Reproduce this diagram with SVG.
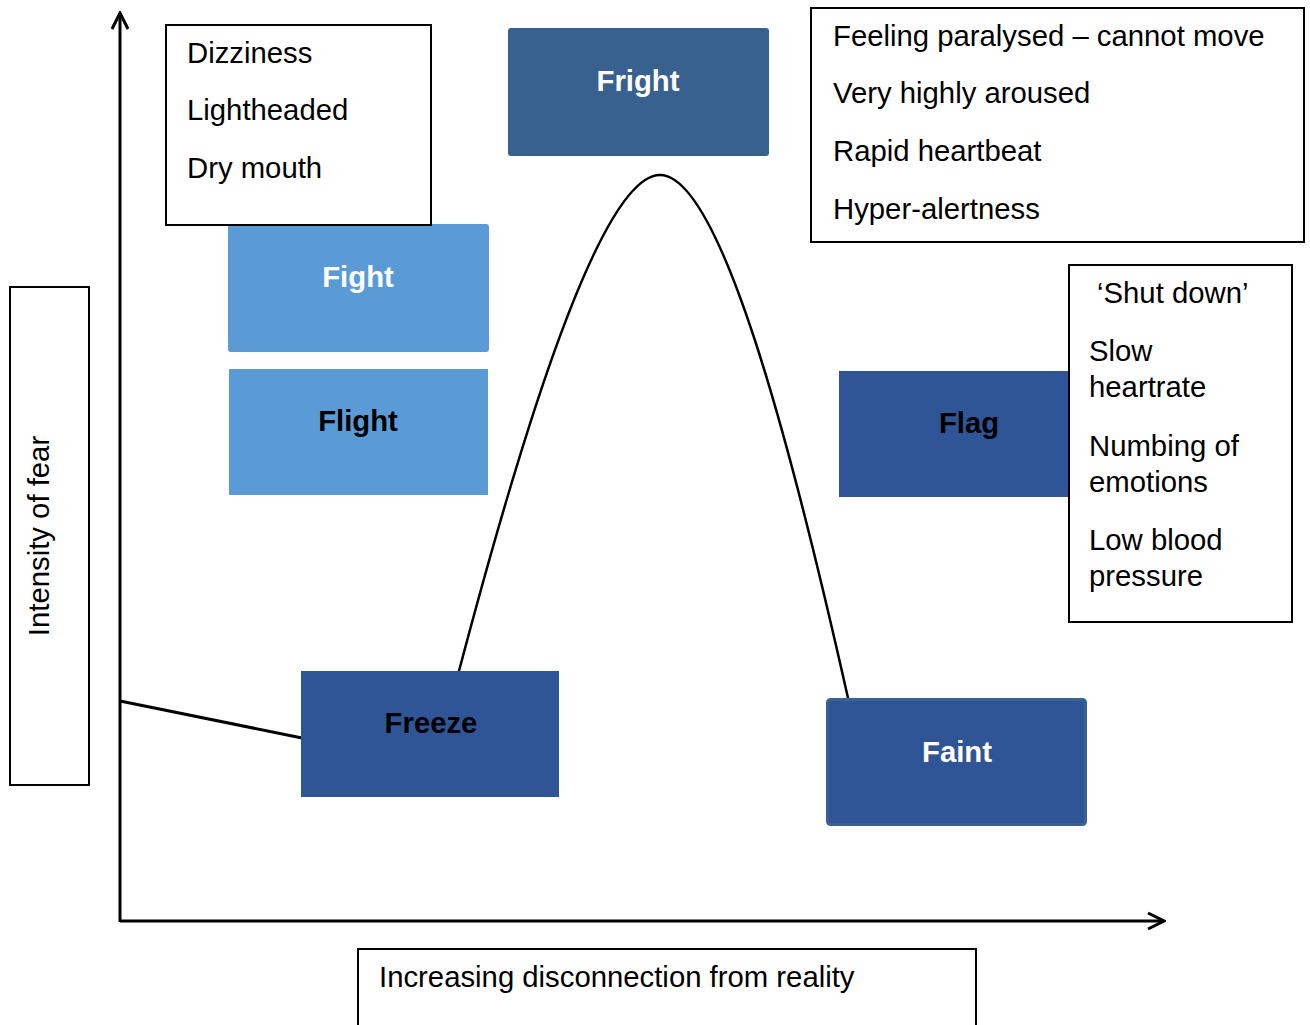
<svg xmlns="http://www.w3.org/2000/svg" width="1310" height="1025" viewBox="0 0 1310 1025">
<style>
  .t { font-family: "Liberation Sans", Arial, sans-serif; font-size: 29.3px; fill: #000; }
  .b { font-family: "Liberation Sans", Arial, sans-serif; font-size: 29.3px; font-weight: bold; text-anchor: middle; }
  .box { fill: #fff; stroke: #000; stroke-width: 2; }
  .ax { fill: none; stroke: #000; stroke-width: 3; }
</style>
<defs>
  <marker id="arr" viewBox="0 0 20 20" refX="18" refY="10" markerWidth="20" markerHeight="20" markerUnits="userSpaceOnUse" orient="auto">
    <path d="M2,2 L18,10 L2,18" fill="none" stroke="#000" stroke-width="3"/>
  </marker>
</defs>
<rect width="1310" height="1025" fill="#fff"/>

<g id="connectors">
  <line class="ax" x1="120" y1="922" x2="120" y2="13" marker-end="url(#arr)"/>
  <line class="ax" x1="120" y1="921" x2="1164" y2="921" marker-end="url(#arr)"/>
  <path d="M459,671 C520,440 600,175 660,175 C720,175 790,440 848,698" fill="none" stroke="#000" stroke-width="2.5"/>
  <line x1="120" y1="701" x2="302" y2="738" stroke="#000" stroke-width="3"/>
</g>

<g id="fight">
  <rect x="228" y="224" width="261" height="128" rx="3" fill="#5B9BD5"/>
  <text class="b" x="358" y="287" fill="#fff">Fight</text>
</g>

<g id="symptoms-top-left">
  <rect class="box" x="166" y="25" width="265" height="200"/>
  <text class="t" x="187" y="63">Dizziness</text>
  <text class="t" x="187" y="120">Lightheaded</text>
  <text class="t" x="187" y="178">Dry mouth</text>
</g>

<g id="fright">
  <rect x="508" y="28" width="261" height="128" rx="3" fill="#38618F"/>
  <text class="b" x="638" y="91" fill="#fff">Fright</text>
</g>

<g id="symptoms-top-right">
  <rect class="box" x="811" y="8" width="493" height="234"/>
  <text class="t" x="833" y="46">Feeling paralysed – cannot move</text>
  <text class="t" x="833" y="103">Very highly aroused</text>
  <text class="t" x="833" y="161">Rapid heartbeat</text>
  <text class="t" x="833" y="219">Hyper-alertness</text>
</g>

<g id="flight">
  <rect x="229" y="369" width="259" height="126" fill="#5B9BD5"/>
  <text class="b" x="358" y="431" fill="#000">Flight</text>
</g>

<g id="flag">
  <rect x="839" y="371" width="231" height="126" fill="#2F5597"/>
  <text class="b" x="969" y="433" fill="#000">Flag</text>
</g>

<g id="symptoms-shut-down">
  <rect class="box" x="1069" y="265" width="223" height="357"/>
  <text class="t" x="1097" y="303">‘Shut down’</text>
  <text class="t" x="1089" y="361">Slow</text>
  <text class="t" x="1089" y="397">heartrate</text>
  <text class="t" x="1089" y="456">Numbing of</text>
  <text class="t" x="1089" y="492">emotions</text>
  <text class="t" x="1089" y="550">Low blood</text>
  <text class="t" x="1089" y="586">pressure</text>
</g>

<g id="freeze">
  <rect x="301" y="671" width="258" height="126" fill="#2F5597"/>
  <text class="b" x="431" y="733" fill="#000">Freeze</text>
</g>

<g id="faint">
  <rect x="827.5" y="699.5" width="258" height="125" rx="3" fill="#2F5597" stroke="#3A6190" stroke-width="3"/>
  <text class="b" x="957" y="762" fill="#fff">Faint</text>
</g>

<g id="y-label">
  <rect class="box" x="10" y="287" width="79" height="498"/>
  <text class="t" text-anchor="middle" transform="translate(49,536) rotate(-90)">Intensity of fear</text>
</g>

<g id="x-label">
  <rect class="box" x="358" y="949" width="618" height="90"/>
  <text class="t" x="379" y="987">Increasing disconnection from reality</text>
</g>
</svg>
